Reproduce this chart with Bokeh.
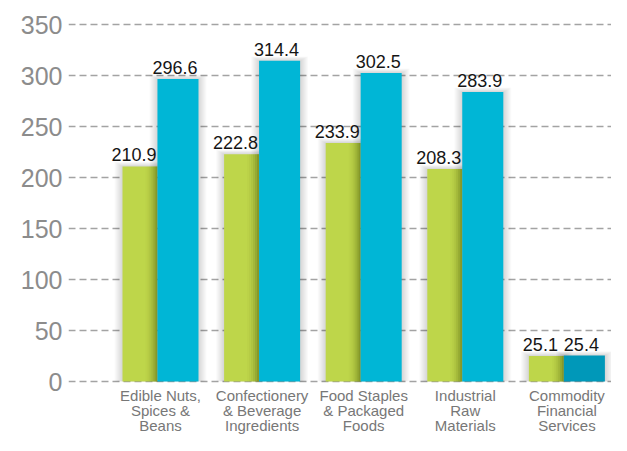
from bokeh.plotting import figure
from bokeh.models import FixedTicker
from bokeh.embed import file_html
from bokeh.resources import INLINE
from bokeh.core.properties import value

# ---- data ----
categories = ["Edible Nuts,\nSpices &\nBeans",
              "Confectionery\n& Beverage\nIngredients",
              "Food Staples\n& Packaged\nFoods",
              "Industrial\nRaw\nMaterials",
              "Commodity\nFinancial\nServices"]
series_a = [210.9, 222.8, 233.9, 208.3, 25.1]
series_b = [296.6, 314.4, 302.5, 283.9, 25.4]
y_ticks = [0, 50, 100, 150, 200, 250, 300, 350]

# ---- styles ----
GREEN = "#BED64A"
BLUE = "#00B6D6"
BLUE_DARK = "#0098B9"
blue_colors = [BLUE, BLUE, BLUE, BLUE, BLUE_DARK]

W, H = 611, 435
ZERO_PX = 381
TOP_PX = 24
PX_X = 101.6                       # pixels per category
PX_Y = (ZERO_PX - TOP_PX) / 350.0  # pixels per unit
dx = 1.0 / PX_X
dy = 1.0 / PX_Y

A_L, A_R = -0.374, -0.03
B_L, B_R = -0.03, 0.374

idx = list(range(len(categories)))

x0 = -(160 - 68) / PX_X
x1 = (W - 160) / PX_X
y1 = 350 + (TOP_PX - 10) / PX_Y
y0 = -(H - ZERO_PX) / PX_Y

p = figure(width=W, height=H, output_backend="svg", toolbar_location=None,
           x_range=(x0, x1), y_range=(y0, y1), x_axis_type=None,
           min_border=0, min_border_left=68, min_border_right=0,
           min_border_top=10, min_border_bottom=0)
p.outline_line_color = None
p.background_fill_color = "white"
p.border_fill_color = "white"

# grid
p.xgrid.visible = False
p.ygrid.ticker = FixedTicker(ticks=y_ticks)
p.ygrid.grid_line_color = "#a3a3a3"
p.ygrid.grid_line_width = 1.6
p.ygrid.grid_line_dash = "7 4"

# y axis
p.yaxis.ticker = FixedTicker(ticks=y_ticks)
p.yaxis.axis_line_color = None
p.yaxis.major_tick_line_color = None
p.yaxis.minor_tick_line_color = None
p.yaxis.major_tick_out = 0
p.yaxis.major_label_standoff = 6
p.yaxis.major_label_text_font = "Liberation Sans"
p.yaxis.major_label_text_font_size = "25px"
p.yaxis.major_label_text_color = "#8c8c8c"

# shadows
for k in range(1, 9):
    for (l, r, vals) in ((A_L, A_R, series_a), (B_L, B_R, series_b)):
        p.quad(left=[i + l - k * dx for i in idx],
               right=[i + r + k * dx for i in idx],
               top=[v + k * 0.55 * dy for v in vals],
               bottom=[0] * len(idx),
               fill_color="black", fill_alpha=0.018, line_color=None)

# green bars
p.quad(left=[i + A_L for i in idx], right=[i + A_R for i in idx],
       top=series_a, bottom=[0] * len(idx), fill_color=GREEN, line_color=None)

# shading on right side of green bars (cast by blue bar)
alphas = [0.03, 0.06, 0.10, 0.15, 0.21, 0.28]
for j, a in enumerate(alphas):
    lft = A_R - (len(alphas) - j) * 2 * dx
    p.quad(left=[i + lft for i in idx], right=[i + A_R for i in idx],
           top=series_a, bottom=[0] * len(idx),
           fill_color="#3a4400", fill_alpha=a * 0.6, line_color=None)

# blue bars
p.quad(left=[i + B_L for i in idx], right=[i + B_R for i in idx],
       top=series_b, bottom=[0] * len(idx), fill_color=blue_colors, line_color=None)

# value labels
p.text(x=[i + (A_L + A_R) / 2 for i in idx], y=series_a,
       text=[f"{v:.1f}" for v in series_a],
       x_offset=-6, y_offset=-5,
       text_align="center", text_baseline="bottom",
       text_font=value("Liberation Sans"), text_font_size="18px",
       text_color="#151515")
p.text(x=[i + (B_L + B_R) / 2 for i in idx], y=series_b,
       text=[f"{v:.1f}" for v in series_b],
       x_offset=-3, y_offset=-5,
       text_align="center", text_baseline="bottom",
       text_font=value("Liberation Sans"), text_font_size="18px",
       text_color="#151515")

# category labels
p.text(x=idx, y=[0] * len(idx), text=categories,
       y_offset=5, text_align="center", text_baseline="top",
       text_line_height=0.9,
       text_font=value("Liberation Sans"), text_font_size="15px",
       text_color="#777777")

open("out.html", "w").write(file_html(p, INLINE))
